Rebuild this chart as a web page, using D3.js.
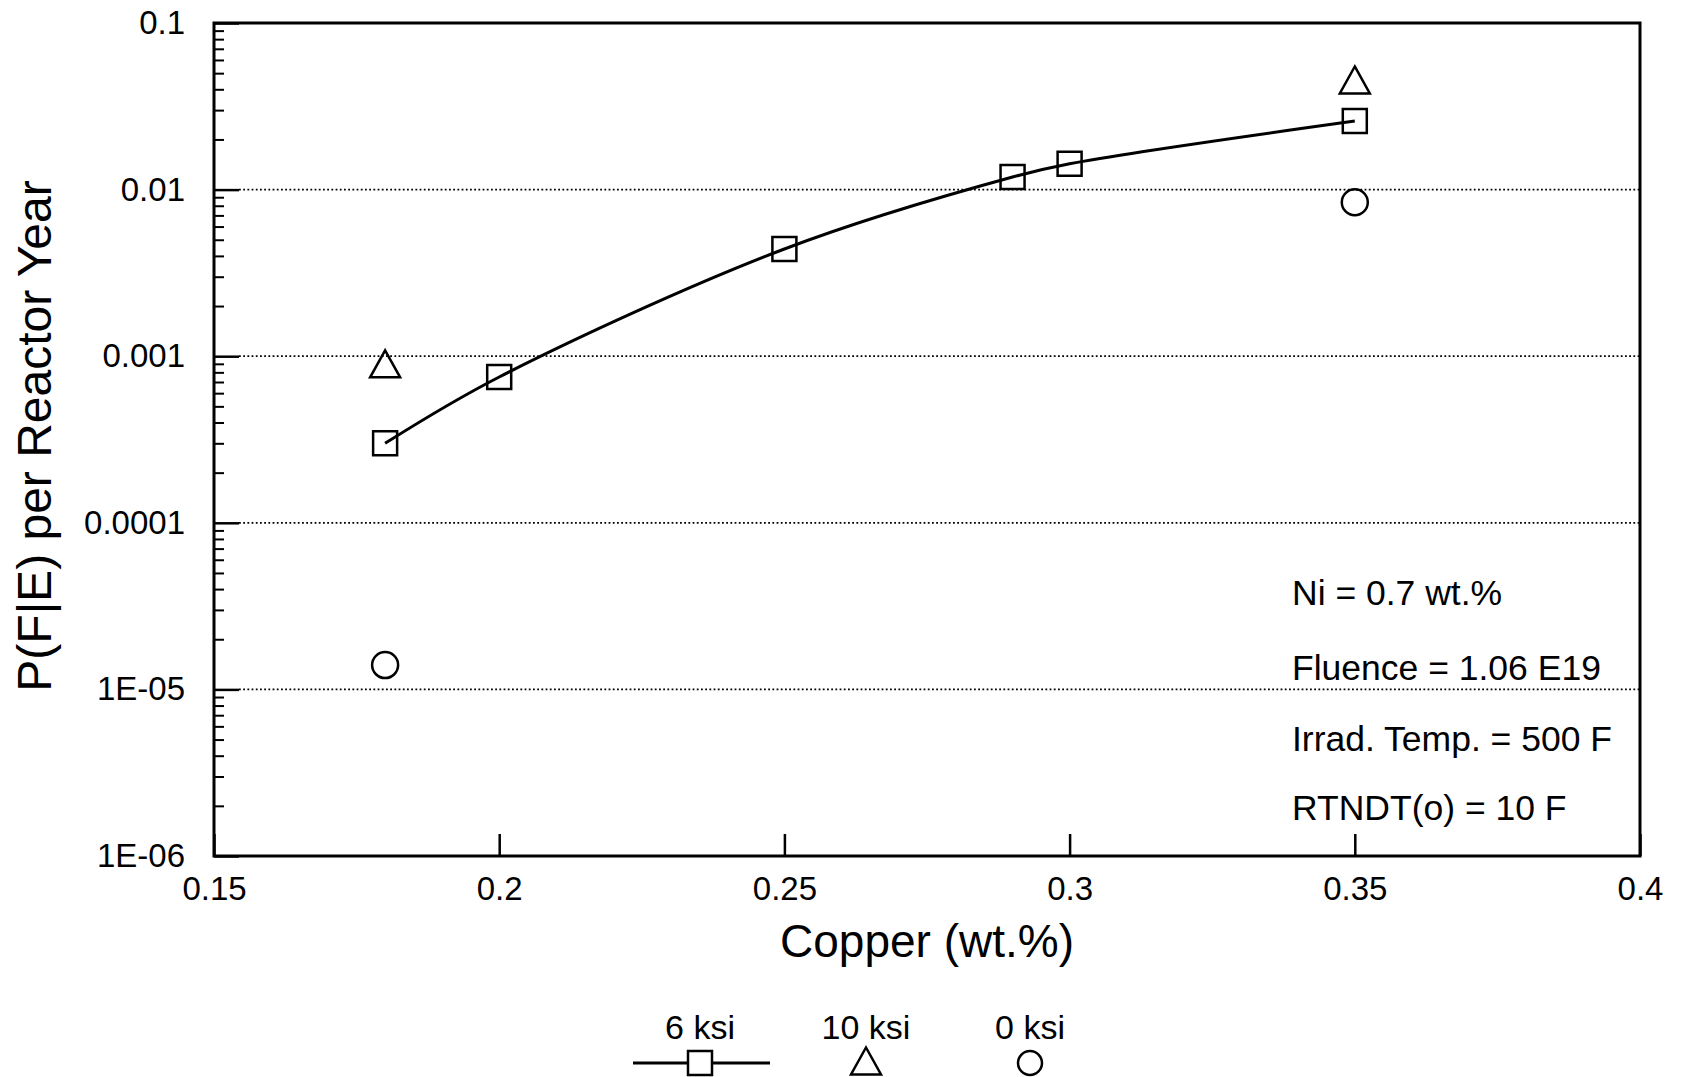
<!DOCTYPE html>
<html>
<head>
<meta charset="utf-8">
<script src="https://cdn.jsdelivr.net/npm/d3@7"></script>
<style>
  body { margin: 0; background: #fff; }
  svg { display: block; font-family: "Liberation Sans", Arial, Helvetica, sans-serif; }
</style>
</head>
<body>
<svg id="chart" width="1681" height="1077"></svg>
<script>
// values: copper (wt.%) vs P(F|E) per reactor year
const copper6 = [0.18, 0.2, 0.25, 0.29, 0.3, 0.35];
const pfe6 = [3.0e-4, 7.5e-4, 4.4e-3, 0.0119, 0.0143, 0.0258];
const copper10 = [0.18, 0.35];
const pfe10 = [9.0e-4, 0.0455];
const copper0 = [0.18, 0.35];
const pfe0 = [1.4e-5, 0.0084];

const xTicks = [0.15, 0.2, 0.25, 0.3, 0.35, 0.4];
const xTickLabels = ['0.15', '0.2', '0.25', '0.3', '0.35', '0.4'];
const yTicks = [0.1, 0.01, 0.001, 0.0001, 1e-5, 1e-6];
const yTickLabels = ['0.1', '0.01', '0.001', '0.0001', '1E-05', '1E-06'];
const notes = ['Ni = 0.7 wt.%', 'Fluence = 1.06 E19', 'Irrad. Temp. = 500 F', 'RTNDT(o) = 10 F'];
const legendLabels = ['6 ksi', '10 ksi', '0 ksi'];

const svg = d3.select('#chart');
const mLeft = 214, mRight = 1640, mTop = 23, mBottom = 856;

let x = d3.scaleLinear().domain([0.15, 0.4]).range([mLeft, mRight]);
let y = d3.scaleLog().domain([1e-6, 0.1]).range([mBottom, mTop]);

// dotted grid lines at the inner decades
svg.append('g')
    .selectAll('line')
    .data(yTicks.slice(1, -1))
    .join('line')
    .attr('x1', mLeft + 25).attr('x2', mRight)
    .attr('y1', d => y(d)).attr('y2', d => y(d))
    .attr('stroke', '#000')
    .attr('stroke-width', 1.8)
    .attr('stroke-dasharray', '1.8,2.4');

// minor ticks on the log axis
let minor = y.ticks().filter(d => !yTicks.some(t => Math.abs(t - d) / t < 1e-6));
svg.append('g')
    .attr('transform', `translate(${mLeft},0)`)
    .call(d3.axisLeft(y).tickValues(minor).tickSize(-10).tickFormat(''))
    .call(g => g.select('.domain').remove())
    .call(g => g.selectAll('line').attr('stroke-width', 2));

// major y ticks + labels
svg.append('g')
    .attr('transform', `translate(${mLeft},0)`)
    .call(d3.axisLeft(y).tickValues(yTicks).tickSize(-25).tickPadding(29)
        .tickFormat((d, i) => yTickLabels[i]))
    .call(g => g.select('.domain').remove())
    .call(g => g.selectAll('line').attr('stroke-width', 2.5))
    .call(g => g.selectAll('text').attr('font-size', 33).attr('fill', '#000')
        .attr('font-family', '"Liberation Sans", Arial, sans-serif'));

// x ticks + labels
svg.append('g')
    .attr('transform', `translate(0,${mBottom})`)
    .call(d3.axisBottom(x).tickValues(xTicks).tickSize(-22).tickPadding(21)
        .tickFormat((d, i) => xTickLabels[i]))
    .call(g => g.select('.domain').remove())
    .call(g => g.selectAll('line').attr('stroke-width', 2.5))
    .call(g => g.selectAll('text').attr('font-size', 33).attr('fill', '#000')
        .attr('font-family', '"Liberation Sans", Arial, sans-serif'));

// plot frame
svg.append('rect')
    .attr('x', mLeft).attr('y', mTop)
    .attr('width', mRight - mLeft).attr('height', mBottom - mTop)
    .attr('fill', 'none').attr('stroke', '#000').attr('stroke-width', 3);

// axis titles
svg.append('text')
    .attr('x', (mLeft + mRight) / 2).attr('y', 957)
    .attr('text-anchor', 'middle').attr('font-size', 46)
    .text('Copper (wt.%)');

svg.append('text')
    .attr('transform', `translate(51,436) rotate(-90)`)
    .attr('text-anchor', 'middle').attr('font-size', 48)
    .text('P(F|E) per Reactor Year');

// symbols
const sq = 24;
function squarePath(cx, cy) {
    return `M${cx - sq / 2},${cy - sq / 2}h${sq}v${sq}h${-sq}Z`;
}
function trianglePath(cx, cy) {
    let w = 30, h = 27;
    return `M${cx},${cy - h / 2}L${cx + w / 2},${cy + h / 2}L${cx - w / 2},${cy + h / 2}Z`;
}

// 6 ksi curve
let pts6 = copper6.map((c, i) => [x(c), y(pfe6[i])]);
let line = d3.line().curve(d3.curveCatmullRom.alpha(0.5));
svg.append('path')
    .attr('d', line(pts6))
    .attr('fill', 'none').attr('stroke', '#000').attr('stroke-width', 3);

let marks = svg.append('g').attr('fill', 'none').attr('stroke', '#000').attr('stroke-width', 2.5);
pts6.forEach(p => {
    marks.append('path').attr('d', squarePath(p[0], p[1]));
});
copper10.forEach((c, i) => {
    marks.append('path').attr('d', trianglePath(x(c), y(pfe10[i])));
});
copper0.forEach((c, i) => {
    marks.append('circle').attr('cx', x(c)).attr('cy', y(pfe0[i])).attr('r', 13);
});

// notes in the lower right
let noteY = [605, 680, 751, 820];
svg.append('g')
    .selectAll('text')
    .data(notes)
    .join('text')
    .attr('x', 1292)
    .attr('y', (d, i) => noteY[i])
    .attr('font-size', 35.5)
    .text(d => d);

// legend below the chart
let legendX = [700, 866, 1030];
let legend = svg.append('g');
legendLabels.forEach((d, i) => {
    legend.append('text')
        .attr('x', legendX[i]).attr('y', 1039)
        .attr('text-anchor', 'middle').attr('font-size', 34)
        .text(d);
});
let lg = legend.append('g').attr('fill', 'none').attr('stroke', '#000').attr('stroke-width', 2.5);
lg.append('line').attr('x1', 633).attr('x2', 770).attr('y1', 1063).attr('y2', 1063).attr('stroke-width', 3);
lg.append('path').attr('d', squarePath(legendX[0], 1063)).attr('fill', '#fff');
lg.append('path').attr('d', trianglePath(legendX[1], 1061));
lg.append('circle').attr('cx', legendX[2]).attr('cy', 1063).attr('r', 12);
</script>
</body>
</html>
